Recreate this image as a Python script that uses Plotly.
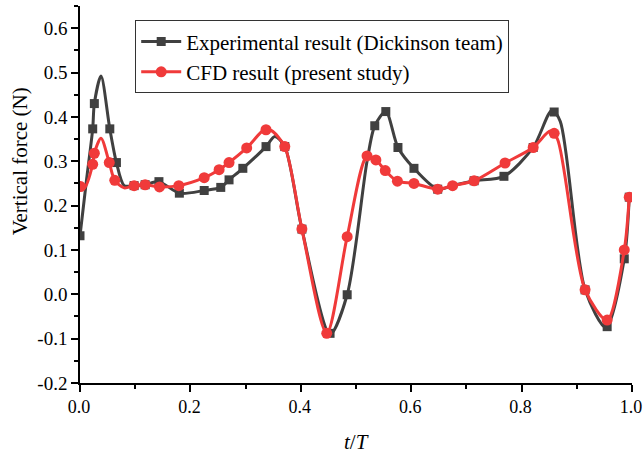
import plotly.graph_objects as go

# Experimental (Dickinson team) - curve points
exp_curve_t = [0.0, 0.012, 0.023, 0.026, 0.038, 0.054, 0.066, 0.08, 0.098, 0.118, 0.143, 0.180, 0.225, 0.255,
               0.270, 0.295, 0.337, 0.353, 0.371, 0.402, 0.453, 0.484, 0.52, 0.534, 0.554, 0.576, 0.605,
               0.648, 0.675, 0.714, 0.768, 0.821, 0.855, 0.870, 0.915, 0.953, 0.986, 0.995]
exp_curve_f = [0.132, 0.26, 0.373, 0.430, 0.492, 0.373, 0.297, 0.245, 0.245, 0.247, 0.254, 0.228, 0.234, 0.241,
               0.258, 0.284, 0.333, 0.356, 0.333, 0.147, -0.090, -0.001, 0.30, 0.380, 0.412, 0.331, 0.284,
               0.237, 0.245, 0.256, 0.266, 0.331, 0.415, 0.39, 0.010, -0.075, 0.080, 0.219]
exp_mark_t = [0.0, 0.023, 0.026, 0.054, 0.066, 0.098, 0.118, 0.143, 0.180, 0.225, 0.255, 0.270, 0.295,
              0.337, 0.371, 0.402, 0.453, 0.484, 0.534, 0.554, 0.576, 0.605, 0.648, 0.714, 0.768, 0.821,
              0.859, 0.915, 0.955, 0.986, 0.995]
exp_mark_f = [0.132, 0.373, 0.430, 0.373, 0.297, 0.245, 0.247, 0.254, 0.228, 0.234, 0.241, 0.258, 0.284,
              0.333, 0.333, 0.147, -0.088, -0.001, 0.380, 0.412, 0.331, 0.284, 0.237, 0.256, 0.266, 0.331,
              0.411, 0.010, -0.073, 0.080, 0.219]

# CFD (present study)
cfd_curve_t = [0.0, 0.008, 0.023, 0.026, 0.038, 0.053, 0.063, 0.08, 0.098, 0.118, 0.144, 0.179, 0.225, 0.252,
               0.270, 0.302, 0.335, 0.347, 0.371, 0.402, 0.447, 0.484, 0.520, 0.536, 0.553, 0.575, 0.605,
               0.648, 0.675, 0.714, 0.770, 0.821, 0.852, 0.865, 0.915, 0.955, 0.986, 0.995]
cfd_curve_f = [0.243, 0.24, 0.293, 0.318, 0.352, 0.297, 0.257, 0.240, 0.245, 0.247, 0.242, 0.245, 0.263, 0.281,
               0.297, 0.330, 0.372, 0.369, 0.333, 0.147, -0.088, 0.130, 0.312, 0.303, 0.279, 0.255, 0.250,
               0.237, 0.245, 0.256, 0.296, 0.331, 0.368, 0.35, 0.010, -0.058, 0.100, 0.219]
cfd_mark_t = [0.001, 0.023, 0.026, 0.053, 0.063, 0.098, 0.118, 0.144, 0.179, 0.225, 0.252, 0.270, 0.302,
              0.337, 0.371, 0.402, 0.447, 0.484, 0.520, 0.536, 0.553, 0.575, 0.605, 0.648, 0.675, 0.714,
              0.770, 0.821, 0.859, 0.915, 0.955, 0.986, 0.995]
cfd_mark_f = [0.243, 0.293, 0.318, 0.297, 0.257, 0.245, 0.247, 0.242, 0.245, 0.263, 0.281, 0.297, 0.330,
              0.371, 0.333, 0.147, -0.088, 0.130, 0.312, 0.303, 0.279, 0.255, 0.250, 0.237, 0.245, 0.256,
              0.296, 0.331, 0.363, 0.010, -0.058, 0.100, 0.219]

# Tick labels
x_tickvals = [0.0, 0.2, 0.4, 0.6, 0.8, 1.0]
x_ticktext = ["0.0", "0.2", "0.4", "0.6", "0.8", "1.0"]
y_tickvals = [-0.2, -0.1, 0.0, 0.1, 0.2, 0.3, 0.4, 0.5, 0.6]
y_ticktext = ["-0.2", "-0.1", "0.0", "0.1", "0.2", "0.3", "0.4", "0.5", "0.6"]

names = ["Experimental result (Dickinson team)", "CFD result (present study)"]
BLACK = "#404040"
RED = "#f03a3a"
FONT = "Liberation Serif"

fig = go.Figure()
for ct, cf, mt, mf, col, sym, sz, nm in [
    (exp_curve_t, exp_curve_f, exp_mark_t, exp_mark_f, BLACK, "square", 9, names[0]),
    (cfd_curve_t, cfd_curve_f, cfd_mark_t, cfd_mark_f, RED, "circle", 11, names[1]),
]:
    fig.add_trace(go.Scatter(x=ct, y=cf, mode="lines", line=dict(color=col, width=3, shape="spline", smoothing=0.8),
                             showlegend=False, hoverinfo="skip"))
    fig.add_trace(go.Scatter(x=mt, y=mf, mode="markers", marker=dict(color=col, symbol=sym, size=sz),
                             showlegend=False))
    fig.add_trace(go.Scatter(x=[None], y=[None], mode="lines+markers", name=nm,
                             line=dict(color=col, width=3), marker=dict(color=col, symbol=sym, size=sz)))

axis_common = dict(showline=True, linecolor="black", linewidth=1.5, ticks="outside", ticklen=7,
                   tickwidth=1.5, tickcolor="black", showgrid=False, zeroline=False, automargin=False,
                   ticklabeloverflow="allow", tickmode="array")
fig.update_xaxes(range=[0, 1.0], tickvals=x_tickvals, ticktext=x_ticktext, ticklabelshift=-1,
                 tickfont=dict(family=FONT, size=18, color="black"),
                 minor=dict(dtick=0.1, tick0=0, ticks="outside", ticklen=4, tickwidth=1.5, tickcolor="black"),
                 **axis_common)
fig.update_yaxes(range=[-0.2, 0.65], tickvals=y_tickvals, ticktext=y_ticktext,
                 tickfont=dict(family=FONT, size=19, color="black"),
                 minor=dict(dtick=0.05, tick0=-0.2, ticks="outside", ticklen=4, tickwidth=1.5, tickcolor="black"),
                 **axis_common)
fig.add_annotation(text="<i>t</i>/<i>T</i>", xref="paper", yref="paper", x=0.5, y=-0.156,
                   xanchor="center", yanchor="middle", showarrow=False,
                   font=dict(family=FONT, size=21, color="black"))
fig.add_annotation(text="Vertical force (N)", xref="paper", yref="paper", x=-0.108, y=0.589,
                   xanchor="center", yanchor="middle", showarrow=False, textangle=-90,
                   font=dict(family=FONT, size=21, color="black"))
fig.update_layout(
    width=643, height=454,
    margin=dict(l=80, r=11, t=6, b=71),
    paper_bgcolor="white", plot_bgcolor="white",
    legend=dict(x=0.1, y=0.962, xanchor="left", yanchor="top", bordercolor="#333333", borderwidth=1,
                bgcolor="white", font=dict(family=FONT, size=21, color="black"), tracegroupgap=0,
                itemwidth=40),
)
fig.write_html("out.html", config={"displayModeBar": False},
               post_script="document.body.style.margin='0';document.body.style.overflow='hidden';")
